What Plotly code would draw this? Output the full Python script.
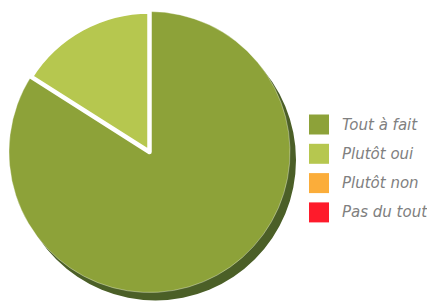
import plotly.graph_objects as go

# ---- data ----
categories = ["Tout à fait", "Plutôt oui", "Plutôt non", "Pas du tout"]
values = [84, 16, 0, 0]
colors = ["#8da239", "#b6c74f", "#fbad3a", "#fe1b2b"]
shadow_color = "#4b5f27"

# page has an 8px body margin: figure is drawn at (8, 8)
OFF = 8
W, H = 435 - OFF, 304 - OFF

def px_x(v):
    return (v - OFF) / W

def px_y(v):
    return 1 - (v - OFF) / H

fig = go.Figure()

# shadow disc (offset)
fig.add_trace(go.Pie(
    values=[1], labels=["shadow"], marker=dict(colors=[shadow_color], line=dict(width=0)),
    textinfo="none", hoverinfo="skip", sort=False, showlegend=False,
    domain=dict(x=[px_x(15), px_x(296)], y=[px_y(300.5), px_y(19.5)]),
))

# main pie
line_colors = ["rgba(255,255,255,0.35)", "#ffffff", "rgba(0,0,0,0)", "rgba(0,0,0,0)"]
line_widths = [1, 4.5, 0, 0]
fig.add_trace(go.Pie(
    labels=categories, values=values,
    marker=dict(colors=colors, line=dict(color=line_colors, width=line_widths)),
    textinfo="none", sort=False, direction="clockwise", rotation=0,
    showlegend=False,
    domain=dict(x=[px_x(9), px_x(290)], y=[px_y(292.5), px_y(11.5)]),
))

# legend (squares + labels)
shapes = []
annotations = []
leg_x, sq, y0, step = 309, 20, 124.5, 29.3
for i, (cat, col) in enumerate(zip(categories, colors)):
    yc = y0 + i * step
    shapes.append(dict(type="rect", xref="paper", yref="paper",
                       x0=px_x(leg_x), x1=px_x(leg_x + sq),
                       y0=px_y(yc + sq / 2), y1=px_y(yc - sq / 2),
                       fillcolor=col, line=dict(width=0)))
    annotations.append(dict(text="<i>%s</i>" % cat, xref="paper", yref="paper",
                            x=px_x(340), y=px_y(yc), xanchor="left", yanchor="middle",
                            showarrow=False,
                            font=dict(family="DejaVu Sans", size=15, color="#808080")))

fig.update_layout(
    width=W, height=H, margin=dict(l=0, r=0, t=0, b=0),
    paper_bgcolor="white", plot_bgcolor="white",
    shapes=shapes, annotations=annotations,
)

fig.write_html("out.html")
